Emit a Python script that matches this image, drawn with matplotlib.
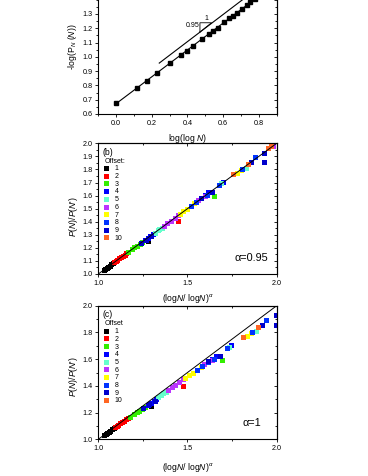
import numpy as np
import matplotlib
matplotlib.use("Agg")
import matplotlib.pyplot as plt
from matplotlib.ticker import MultipleLocator, FixedLocator

plt.rcParams['font.family'] = ['Liberation Sans', 'DejaVu Sans']
plt.rcParams['mathtext.fontset'] = 'custom'
plt.rcParams['mathtext.rm'] = 'Liberation Sans'
plt.rcParams['mathtext.it'] = 'Liberation Sans:italic'
plt.rcParams['mathtext.bf'] = 'Liberation Sans:bold'

# ---------------- data: panel (a) ----------------
a_x = [0.0, 0.116, 0.172, 0.231, 0.302, 0.362, 0.395, 0.433, 0.479, 0.520,
       0.545, 0.569, 0.604, 0.632, 0.653, 0.675, 0.703, 0.731, 0.753, 0.78]
a_y = [0.680, 0.779, 0.832, 0.887, 0.956, 1.013, 1.038, 1.077, 1.123, 1.158,
       1.183, 1.204, 1.240, 1.268, 1.286, 1.309, 1.332, 1.364, 1.380, 1.405]
a_yticks = [0.6, 0.7, 0.8, 0.9, 1.0, 1.1, 1.2, 1.3]
ref_x = [0.242, 0.72]
ref_y = [0.956, 1.41]
tri_x = [0.470, 0.535, 0.470, 0.470]
tri_y = [1.173, 1.238, 1.238, 1.173]

# ---------------- data: panels (b) and (c) ----------------
offsets = ['1', '2', '3', '4', '5', '6', '7', '8', '9', '10']
colors = ['#000000', '#ff0000', '#33ee00', '#0000ff', '#66ffcc',
          '#bb33ff', '#ffff00', '#0033ff', '#0000cc', '#ff6622']

b_x = {
    '1': [1.035, 1.042, 1.050, 1.058, 1.066, 1.075, 1.085, 1.280],
    '2': [1.090, 1.100, 1.110, 1.120, 1.130, 1.140, 1.150, 1.160, 1.449],
    '3': [1.170, 1.190, 1.205, 1.220, 1.235, 1.250, 1.500, 1.654],
    '4': [1.265, 1.280, 1.295, 1.310, 1.600, 1.620, 1.700],
    '5': [1.320, 1.335, 1.345, 1.360, 1.690, 1.830],
    '6': [1.370, 1.390, 1.410, 1.430, 1.450, 1.560, 1.600, 1.980],
    '7': [1.460, 1.480, 1.500, 1.520, 1.540, 1.780, 1.800],
    '8': [1.520, 1.550, 1.580, 1.610, 1.680, 1.760, 1.810, 1.880],
    '9': [1.240, 1.270, 1.300, 1.580, 1.640, 1.860, 1.934, 1.934],
    '10': [1.760, 1.840, 1.953, 1.972],
}
b_y = {
    '1': [1.030, 1.038, 1.045, 1.052, 1.060, 1.070, 1.080, 1.247],
    '2': [1.085, 1.095, 1.105, 1.115, 1.125, 1.135, 1.145, 1.155, 1.398],
    '3': [1.165, 1.185, 1.200, 1.210, 1.225, 1.240, 1.490, 1.591],
    '4': [1.255, 1.270, 1.285, 1.300, 1.600, 1.620, 1.700],
    '5': [1.310, 1.330, 1.340, 1.350, 1.690, 1.810],
    '6': [1.365, 1.385, 1.405, 1.425, 1.445, 1.560, 1.590, 1.975],
    '7': [1.455, 1.475, 1.495, 1.515, 1.540, 1.770, 1.790],
    '8': [1.515, 1.545, 1.575, 1.600, 1.680, 1.760, 1.800, 1.890],
    '9': [1.230, 1.260, 1.285, 1.580, 1.620, 1.850, 1.925, 1.855],
    '10': [1.760, 1.840, 1.962, 1.974],
}
c_x = {
    '1': [1.037, 1.044, 1.052, 1.061, 1.069, 1.079, 1.090, 1.297],
    '2': [1.095, 1.105, 1.116, 1.127, 1.137, 1.148, 1.159, 1.170, 1.478],
    '3': [1.180, 1.201, 1.217, 1.233, 1.249, 1.265, 1.533, 1.698],
    '4': [1.281, 1.297, 1.313, 1.329, 1.640, 1.661, 1.748],
    '5': [1.339, 1.355, 1.365, 1.382, 1.737, 1.889],
    '6': [1.393, 1.414, 1.435, 1.457, 1.478, 1.597, 1.640, 2.050],
    '7': [1.489, 1.510, 1.533, 1.555, 1.576, 1.834, 1.856],
    '8': [1.555, 1.586, 1.619, 1.651, 1.726, 1.813, 1.867, 1.945],
    '9': [1.255, 1.287, 1.318, 1.619, 1.685, 1.923, 2.000, 2.000],
    '10': [1.813, 1.899, 2.021, 2.041],
}

# ---------------- figure ----------------
W, H = 368, 476
fig = plt.figure(figsize=(W / 100, H / 100), dpi=100)

def px_axes(left, right, top, bottom):
    return fig.add_axes([left / W, 1 - bottom / H, (right - left) / W, (bottom - top) / H])

tick_fs = 5.2
label_fs = 6.2

def style(ax, xmaj, xmin, ymaj, ymin, yfixed=None):
    ax.xaxis.set_major_locator(MultipleLocator(xmaj))
    ax.xaxis.set_minor_locator(MultipleLocator(xmin))
    if yfixed is not None:
        ax.yaxis.set_major_locator(FixedLocator(yfixed))
    else:
        ax.yaxis.set_major_locator(MultipleLocator(ymaj))
    ax.yaxis.set_minor_locator(MultipleLocator(ymin))
    for s in ax.spines.values():
        s.set_linewidth(0.8)
    ax.tick_params(which='both', labelsize=tick_fs, width=0.6, pad=1.5,
                   direction='out', top=False, right=False)
    ax.tick_params(which='major', length=2.5)
    ax.tick_params(which='minor', length=1.5)
    ax2 = ax.secondary_xaxis('top')
    ax2.xaxis.set_major_locator(MultipleLocator(xmaj))
    ax2.xaxis.set_minor_locator(MultipleLocator(xmin))
    ax3 = ax.secondary_yaxis('right')
    ax3.yaxis.set_major_locator(MultipleLocator(ymaj))
    ax3.yaxis.set_minor_locator(MultipleLocator(ymin))
    for sec in (ax2, ax3):
        sec.tick_params(which='both', direction='in', labeltop=False,
                        labelright=False, width=0.6)
        sec.tick_params(which='major', length=2.5)
        sec.tick_params(which='minor', length=1.5)

# ---- panel (a) ----
axa = px_axes(98.2, 276.7, 114 - 0.9 * 143.0, 114)
axa.set_xlim(-0.1, 0.9)
axa.set_ylim(0.6, 1.5)
coef = np.polyfit(a_x, a_y, 1)
fx = np.array([a_x[0], 0.8])
axa.plot(fx, np.polyval(coef, fx), color='black', lw=0.8)
axa.plot(a_x, a_y, 's', color='black', ms=3.3)
axa.plot(ref_x, ref_y, color='black', lw=0.8)
axa.plot(tri_x, tri_y, color='black', lw=0.6)
axa.text(0.505, 1.245, '1', fontsize=5, ha='center', va='bottom')
axa.text(0.468, 1.222, '0.95', fontsize=5, ha='right', va='center')
style(axa, 0.2, 0.1, 0.1, 0.05, yfixed=a_yticks)
axa.set_xlabel('log(log $N$)', fontsize=label_fs)
axa.xaxis.set_label_coords(0.5, -0.14)
axa.set_ylabel('-log(P$_N$ ($N$))', fontsize=label_fs)
axa.yaxis.set_label_coords(-0.106, 0.52)

# ---- panels (b) and (c) ----
def scatter_panel(ax, xs, ys, tag, alpha_txt, ytick_major, ytick_minor, title):
    ax.set_xlim(1.0, 2.0)
    ax.set_ylim(1.0, 2.0)
    ax.plot([1.0, 2.0], [1.0, 2.0], color='black', lw=0.7, zorder=3)
    handles = []
    for k, c in zip(offsets, colors):
        h = ax.scatter(xs[k], ys[k], s=13, marker='s', color=c, edgecolors='none',
                       zorder=2, clip_on=True, label=k)
        handles.append(h)
    style(ax, 0.5, 0.25, ytick_major, ytick_minor)
    ax.text(0.025, 0.965, tag, transform=ax.transAxes, fontsize=6.2, ha='left', va='top')
    ax.text(0.86, 0.125, alpha_txt, transform=ax.transAxes, fontsize=7.8, ha='center', va='center')
    ax.legend(handles=handles, loc='upper left', bbox_to_anchor=(0.03, 0.895),
              frameon=False, fontsize=5, title=title, title_fontsize=5,
              handlelength=0.6, handletextpad=0.9, labelspacing=0.1,
              borderpad=0.1, borderaxespad=0.0, markerscale=1.0, alignment='left')
    ax.set_xlabel("(log$N$/ log$N$)$^{\\alpha}$", fontsize=label_fs)
    ax.set_ylabel("$P$($N$)/$P$($N$')", fontsize=label_fs)

axb = px_axes(98.3, 276.7, 143.3, 274.0)
scatter_panel(axb, b_x, b_y, '(b)', '\u03b1=0.95', 0.1, 0.05, 'Offset:')
axb.xaxis.set_label_coords(0.5, -0.135)
axb.yaxis.set_label_coords(-0.103, 0.44)

axc = px_axes(98.3, 276.7, 305.7, 439.3)
scatter_panel(axc, c_x, b_y, '(c)', '\u03b1=1', 0.2, 0.1, 'Offset')
axc.xaxis.set_label_coords(0.5, -0.165)
axc.yaxis.set_label_coords(-0.103, 0.47)

fig.savefig('out.png', dpi=100)
